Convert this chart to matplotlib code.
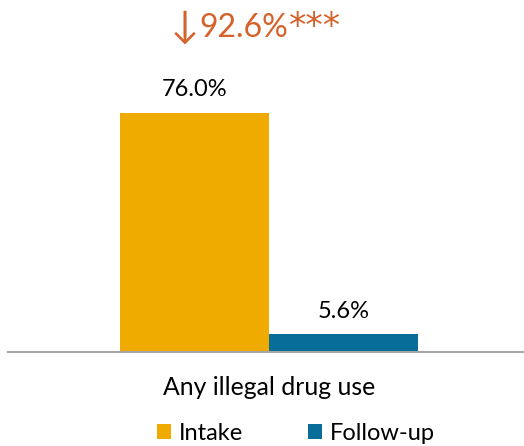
import matplotlib.pyplot as plt
from matplotlib.patches import Patch

# --- dados ---
category = "Any illegal drug use"
series = ["Intake", "Follow-up"]
values = [76.0, 5.6]
colors = ["#F0AB00", "#086E99"]
change_arrow = "\u2193"
change_value = "92.6%"
change_stars = "***"

plt.rcParams["font.family"] = ["Lato", "DejaVu Sans"]

W, H = 524, 446
fig = plt.figure(figsize=(W / 100, H / 100), dpi=100)
ax = fig.add_axes([8 / W, 94 / H, 516 / W, 352 / H])

# px por unidade: 239 px para 76
unit = 239 / 76
xs = [-0.5, 0.5]
ax.bar(xs, values, width=1.0, color=colors)

for x, v in zip(xs, values):
    ax.text(x, v + 4.0, f"{v:.1f}%", ha="center", va="bottom", fontsize=17)

# anotação da variação (em partes, para controlar o tamanho dos asteriscos)
orange = "#D5622A"
fig.text(199 / W, 1 - 38 / H, change_arrow, ha="right", va="baseline",
         fontsize=27, color=orange)
fig.text(243.5 / W, 1 - 37 / H, change_value, ha="center", va="baseline",
         fontsize=23, color=orange)
fig.text(289 / W, 1 - 37 / H, change_stars, ha="left", va="baseline",
         fontsize=25, color=orange, family="DejaVu Sans")

ax.set_xlim(-(269 - 8) / 149, (524 - 269) / 149)
ax.set_ylim(0, 352 / unit)
ax.set_xticks([0])
ax.set_xticklabels([category], fontsize=17.8)
ax.tick_params(axis="x", length=0, pad=17)
ax.set_yticks([])
for s in ["top", "left", "right"]:
    ax.spines[s].set_visible(False)
ax.spines["bottom"].set_color("#A6A6A6")
ax.spines["bottom"].set_linewidth(1.5)

handles = [Patch(facecolor=c, label=s) for s, c in zip(series, colors)]
fig.legend(handles=handles, loc="center", bbox_to_anchor=(296 / W, 1 - 433 / H),
           ncol=2, frameon=False, fontsize=17, handlelength=0.6, handleheight=0.6,
           handletextpad=0.35, columnspacing=2.73)

fig.savefig("out.png", dpi=100)
